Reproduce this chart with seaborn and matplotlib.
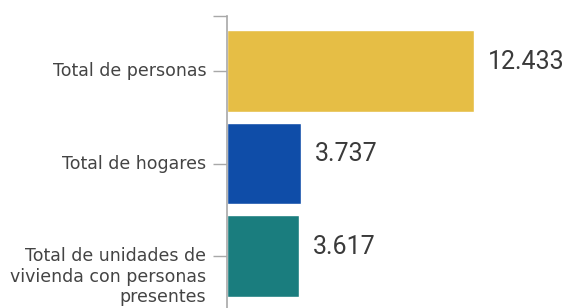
import matplotlib
matplotlib.use("Agg")
import matplotlib.pyplot as plt
import matplotlib.transforms as mtransforms
import seaborn as sns
import pandas as pd

categorias = ["Total de personas", "Total de hogares",
              "Total de unidades de\nvivienda con personas\npresentes"]
valores = [12433, 3737, 3617]
etiquetas = ["12.433", "3.737", "3.617"]
colores = ["#E6BE45", "#0F4DA8", "#1A7D7E"]

df = pd.DataFrame({"categoria": categorias, "valor": valores})

sns.set_style("white")
plt.rcParams["font.family"] = ["DejaVu Sans"]

fig = plt.figure(figsize=(5.73, 3.08), dpi=100)
ax = fig.add_axes([227 / 573, 1 - 311 / 308, 278 / 573, 295 / 308])

sns.barplot(data=df, x="valor", y="categoria", hue="categoria",
            palette=colores, width=0.886, legend=False, ax=ax, saturation=1)

# etiquetas de valor
for i, (v, t) in enumerate(zip(valores, etiquetas)):
    ax.text(v + 700, i - 0.1, t, va="center", ha="left",
            fontsize=18, color="#3a3a3a", family=["Roboto", "DejaVu Sans"])

ax.set_xlim(0, 14000)
ax.set_ylim(2.595, -0.595)
ax.set_xlabel("")
ax.set_ylabel("")
ax.set_xticks([])
for s in ["top", "right", "bottom"]:
    ax.spines[s].set_visible(False)
ax.spines["left"].set_color("#a8a8a8")
ax.spines["left"].set_linewidth(1.2)

ax.set_yticks([-0.595], minor=True)
ax.tick_params(axis="y", which="both", left=True, length=10, width=1,
               color="#a8a8a8", pad=5)
ax.tick_params(axis="y", which="major", labelsize=12.5, labelcolor="#444444")

# primera linea de cada etiqueta alineada con su marca
shift = mtransforms.ScaledTranslation(0, 6.4 / 72, fig.dpi_scale_trans)
for lab in ax.get_yticklabels():
    lab.set_linespacing(1.18)
    lab.set_verticalalignment("top")
    lab.set_transform(lab.get_transform() + shift)

fig.savefig("out.png", dpi=100)
